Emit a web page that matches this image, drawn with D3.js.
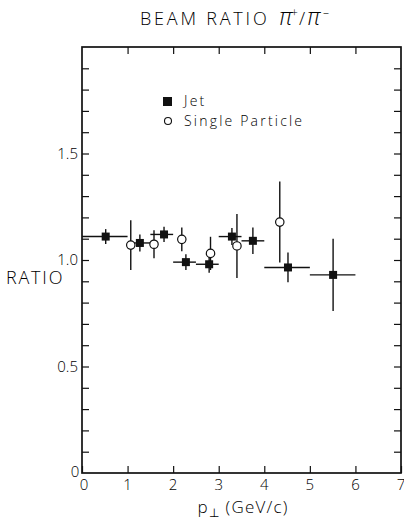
<!DOCTYPE html>
<html>
<head>
<meta charset="utf-8">
<script src="https://cdn.jsdelivr.net/npm/d3@7/dist/d3.min.js"></script>
<style>
  html, body { margin: 0; padding: 0; background: #fff; }
  svg { display: block; }
  text { font-family: "Open Sans", "Liberation Sans", sans-serif; font-weight: 300; fill: #000; }
</style>
</head>
<body>
<svg id="chart" width="404" height="525"></svg>
<script>
// Jet measurements: bin centre, ratio, bin edges and vertical error
const jetX    = [0.52, 1.27, 1.80, 2.28, 2.79, 3.29, 3.75, 4.52, 5.51];
const jetY    = [1.11, 1.08, 1.12, 0.99, 0.98, 1.11, 1.09, 0.965, 0.93];
const jetXLo  = [0.0, 1.0, 1.5, 2.0, 2.5, 3.0, 3.5, 4.0, 5.0];
const jetXHi  = [1.0, 1.5, 2.0, 2.5, 3.0, 3.5, 4.0, 5.0, 6.0];
const jetErr  = [0.035, 0.04, 0.036, 0.037, 0.04, 0.04, 0.062, 0.07, 0.17];

// Single particle measurements
const spX   = [1.07, 1.58, 2.19, 2.82, 3.40, 4.34];
const spY   = [1.07, 1.074, 1.097, 1.031, 1.066, 1.178];
const spErr = [0.117, 0.066, 0.056, 0.078, 0.15, 0.19];

// Axis ticks
const xTickValues = [0, 1, 2, 3, 4, 5, 6, 7];
const xTickLabels = ["0", "1", "2", "3", "4", "5", "6", "7"];
const yMinorTicks = d3.range(0, 20).map(i => i / 10);
const yLabelValues = [0.5, 1.0, 1.5];
const yLabelText = ["0.5", "1.0", "1.5"];

const svg = d3.select("#chart");
const plotLeft = 82, plotRight = 401, plotTop = 47, plotBottom = 473;

const x = d3.scaleLinear().domain([0, 7]).range([plotLeft, plotRight]);
const y = d3.scaleLinear().domain([0, 2]).range([plotBottom, plotTop]);

const ink = "#111";

// Frame
svg.append("rect")
  .attr("x", plotLeft).attr("y", plotTop)
  .attr("width", plotRight - plotLeft).attr("height", plotBottom - plotTop)
  .attr("fill", "none").attr("stroke", ink).attr("stroke-width", 1.7);

// Inward ticks on all four sides
const tickLen = 7;
const bottomAxis = d3.axisBottom(x).tickValues(xTickValues).tickSize(-tickLen).tickFormat("");
const topAxis = d3.axisTop(x).tickValues(xTickValues.slice(1, -1)).tickSize(-tickLen).tickFormat("");
const leftAxis = d3.axisLeft(y).tickValues(yMinorTicks.slice(1)).tickSize(-tickLen).tickFormat("");
const rightAxis = d3.axisRight(y).tickValues(yMinorTicks.slice(1)).tickSize(-tickLen).tickFormat("");

function styleAxis(g) {
  g.select(".domain").remove();
  g.selectAll(".tick line").attr("stroke", ink).attr("stroke-width", 1.2);
}
svg.append("g").attr("transform", `translate(0,${plotBottom})`).call(bottomAxis).call(styleAxis);
svg.append("g").attr("transform", `translate(0,${plotTop})`).call(topAxis).call(styleAxis);
svg.append("g").attr("transform", `translate(${plotLeft},0)`).call(leftAxis).call(styleAxis);
svg.append("g").attr("transform", `translate(${plotRight},0)`).call(rightAxis).call(styleAxis);

// Tick labels
svg.append("g").selectAll("text")
  .data(xTickValues)
  .join("text")
  .attr("x", d => x(d) + (d === 0 ? 2 : 0))
  .attr("y", 490)
  .attr("text-anchor", "middle")
  .attr("font-size", 15)
  .text((d, i) => xTickLabels[i]);

svg.append("g").selectAll("text")
  .data(yLabelValues)
  .join("text")
  .attr("x", plotLeft - 4)
  .attr("y", d => y(d) + 5)
  .attr("text-anchor", "end")
  .attr("font-size", 15)
  .text((d, i) => yLabelText[i]);

svg.append("text")
  .attr("x", 75).attr("y", y(0) + 4)
  .attr("text-anchor", "middle")
  .attr("font-size", 15)
  .text("0");

// Axis titles
svg.append("text")
  .attr("x", 6).attr("y", 284)
  .attr("font-size", 18)
  .attr("letter-spacing", 1.8)
  .text("RATIO");

const xt = svg.append("text")
  .attr("x", 243).attr("y", 513)
  .attr("text-anchor", "middle")
  .attr("font-size", 17)
  .attr("letter-spacing", 1.2);
xt.append("tspan").text("p");
xt.append("tspan").attr("font-size", 12).attr("dy", 4).text("\u22A5");
xt.append("tspan").attr("dy", -4).text(" (GeV/c)");

// Title: plain caption followed by the pion charge ratio
const title = svg.append("text")
  .attr("x", 140).attr("y", 25)
  .attr("font-size", 18)
  .attr("letter-spacing", 2.8);
title.append("tspan").text("BEAM RATIO");
title.append("tspan").attr("x", 279).attr("font-style", "italic").attr("font-size", 23).attr("letter-spacing", 0).text("\u03C0");
title.append("tspan").attr("x", 291).attr("font-size", 12).attr("letter-spacing", 0).attr("dy", -8).text("+");
title.append("tspan").attr("x", 299).attr("dy", 8).attr("letter-spacing", 0).text("/");
title.append("tspan").attr("x", 307).attr("font-style", "italic").attr("font-size", 23).attr("letter-spacing", 0).text("\u03C0");
title.append("tspan").attr("x", 323).attr("font-size", 12).attr("letter-spacing", 0).attr("dy", -8).text("\u2013");

// Error bars
const jet = jetX.map((d, i) => ({x: d, y: jetY[i], lo: jetXLo[i], hi: jetXHi[i], e: jetErr[i]}));
const sp = spX.map((d, i) => ({x: d, y: spY[i], e: spErr[i]}));

const bars = svg.append("g").attr("stroke", ink).attr("stroke-width", 1.4);
bars.selectAll(".spv").data(sp).join("line")
  .attr("x1", d => x(d.x)).attr("x2", d => x(d.x))
  .attr("y1", d => y(d.y + d.e)).attr("y2", d => y(d.y - d.e));
bars.selectAll(".jh").data(jet).join("line")
  .attr("x1", d => x(d.lo)).attr("x2", d => x(d.hi))
  .attr("y1", d => y(d.y)).attr("y2", d => y(d.y));
bars.selectAll(".jv").data(jet).join("line")
  .attr("x1", d => x(d.x)).attr("x2", d => x(d.x))
  .attr("y1", d => y(d.y + d.e)).attr("y2", d => y(d.y - d.e));

// Markers
const sq = 8;
svg.append("g").selectAll("circle").data(sp).join("circle")
  .attr("cx", d => x(d.x)).attr("cy", d => y(d.y)).attr("r", 4.2)
  .attr("fill", "#fff").attr("stroke", ink).attr("stroke-width", 1.2);
svg.append("g").selectAll("rect").data(jet).join("rect")
  .attr("x", d => x(d.x) - sq / 2).attr("y", d => y(d.y) - sq / 2)
  .attr("width", sq).attr("height", sq)
  .attr("fill", ink);

// Legend
svg.append("rect").attr("x", 163).attr("y", 97).attr("width", 9).attr("height", 9).attr("fill", ink);
svg.append("text").attr("x", 184).attr("y", 106).attr("font-size", 14).attr("letter-spacing", 2.2).text("Jet");
svg.append("circle").attr("cx", 168).attr("cy", 121).attr("r", 3.5)
  .attr("fill", "#fff").attr("stroke", ink).attr("stroke-width", 1.1);
svg.append("text").attr("x", 184).attr("y", 126).attr("font-size", 14).attr("letter-spacing", 2.2).text("Single Particle");
</script>
</body>
</html>
